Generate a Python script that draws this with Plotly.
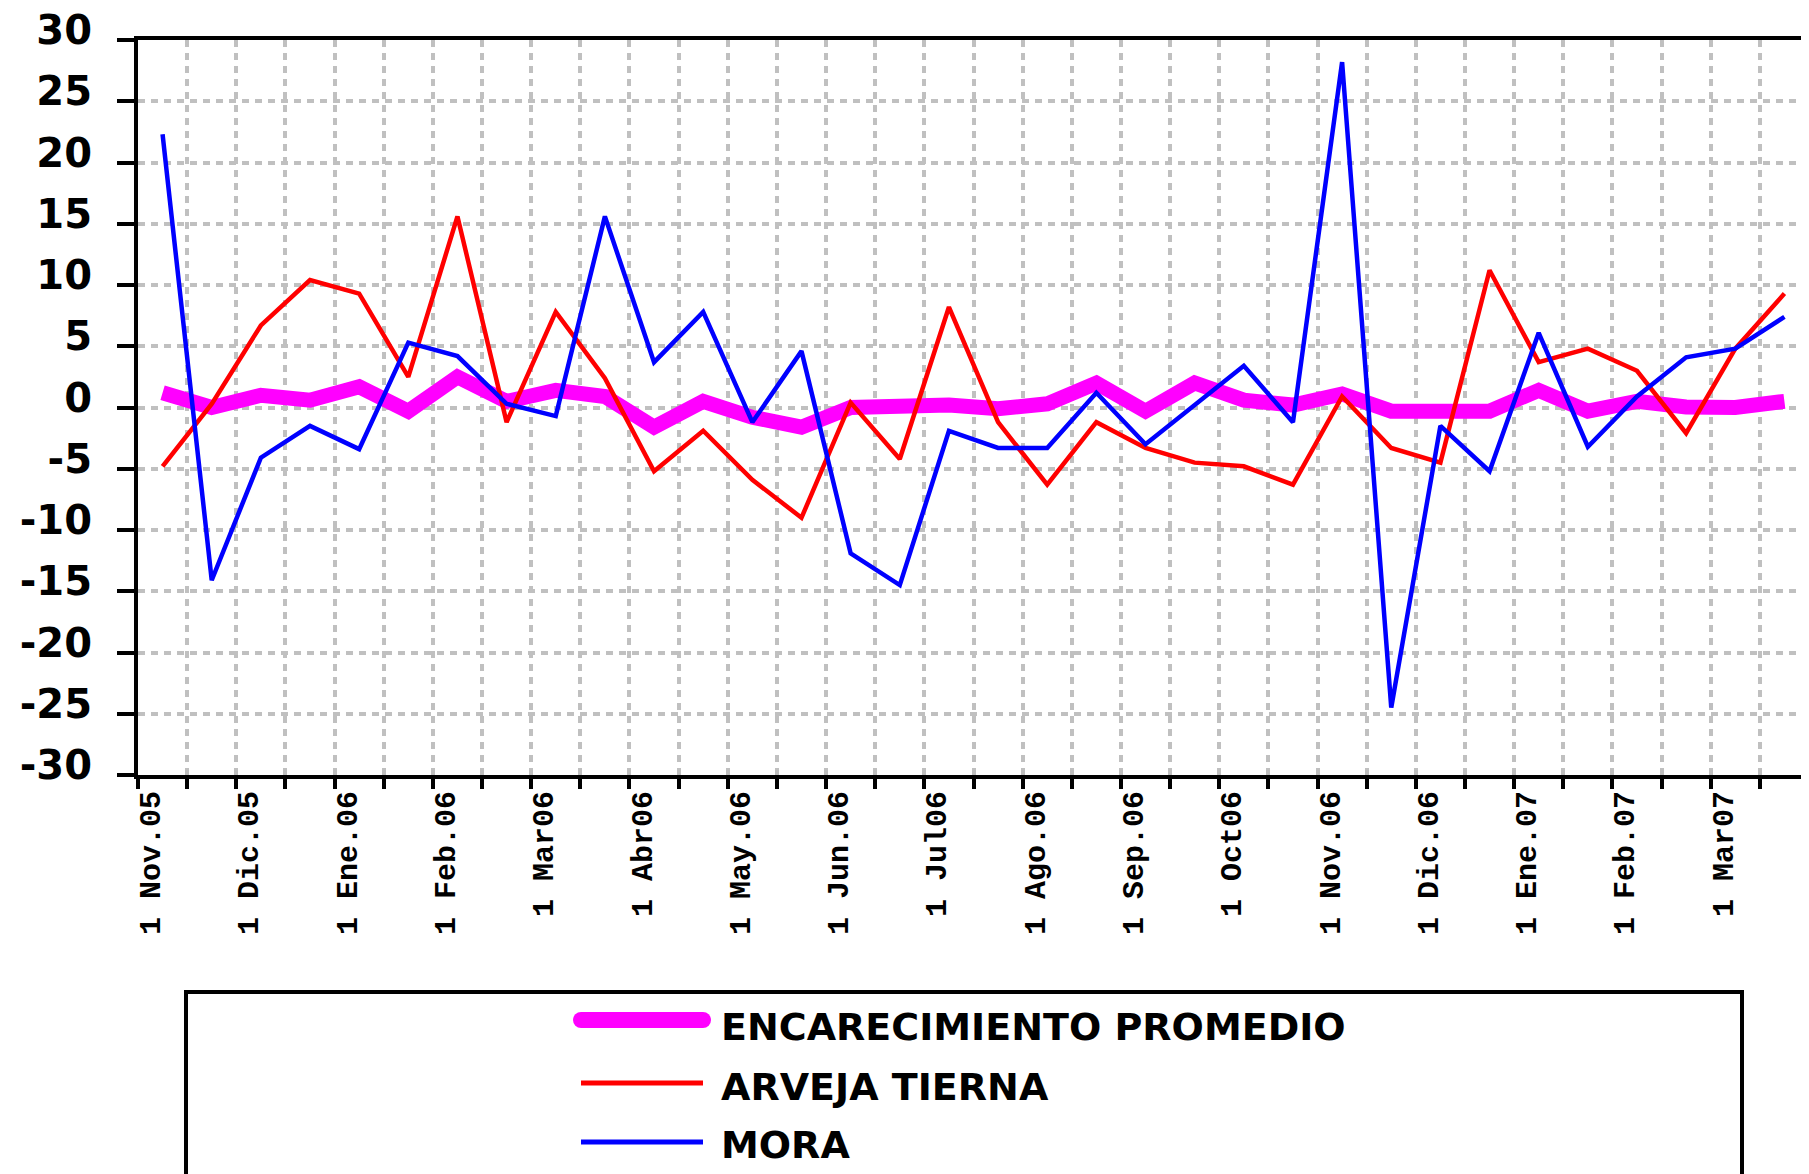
import plotly.graph_objects as go

# ---- data ----
month_labels = ["1 Nov.05", "1 Dic.05", "1 Ene.06", "1 Feb.06", "1 Mar06", "1 Abr06",
                "1 May.06", "1 Jun.06", "1 Jul06", "1 Ago.06", "1 Sep.06", "1 Oct06",
                "1 Nov.06", "1 Dic.06", "1 Ene.07", "1 Feb.07", "1 Mar07"]

encarecimiento = [1.2, 0.0, 1.0, 0.6, 1.7, -0.3, 2.5, 0.5, 1.4, 0.9, -1.6, 0.5, -0.8, -1.6,
                  0.0, 0.2, 0.2, -0.1, 0.3, 2.0, -0.3, 2.0, 0.6, 0.2, 1.1, -0.3, -0.3, -0.3,
                  1.4, -0.3, 0.5, 0.05, 0.0, 0.5]
arveja = [-4.8, 0.3, 6.7, 10.4, 9.3, 2.5, 15.6, -1.2, 7.8, 2.4, -5.2, -1.9, -5.9, -9.0,
          0.4, -4.2, 8.2, -1.2, -6.3, -1.2, -3.3, -4.5, -4.8, -6.3, 0.9, -3.3, -4.5, 11.2,
          3.7, 4.8, 3.0, -2.1, 4.8, 9.3]
mora = [22.3, -14.1, -4.1, -1.5, -3.4, 5.3, 4.2, 0.3, -0.7, 15.6, 3.7, 7.8, -1.2, 4.6,
        -11.9, -14.5, -1.9, -3.3, -3.3, 1.2, -3.0, 0.2, 3.4, -1.2, 28.2, -24.5, -1.5, -5.2,
        6.1, -3.2, 0.9, 4.1, 4.8, 7.4]

series_names = ["ENCARECIMIENTO PROMEDIO", "ARVEJA TIERNA", "MORA"]
series_colors = ["#FF00FF", "#FF0000", "#0000FF"]
series_widths = [15, 4.5, 4.5]
y_ticks = list(range(-30, 31, 5))

# ---- layout geometry (page body has an 8px margin) ----
OFF = 8
W, H = 1809 - OFF, 1174 - OFF
PL, PR, PT, PB = 138, 1811, 40, 775          # plot area in window pixels
L, T = PL - OFF, PT - OFF
R = max(0, W - (PR - OFF))
B = H - (PB - OFF)
pw, ph = W - L - R, H - T - B

def px(xw):
    return (xw - OFF - L) / pw

def py(yw):
    return (H - B - (yw - OFF)) / ph

idx = list(range(len(encarecimiento)))
fig = go.Figure()
for name, vals, col, w in zip(series_names, [encarecimiento, arveja, mora], series_colors, series_widths):
    fig.add_trace(go.Scatter(x=idx, y=vals, mode="lines", name=name,
                             line=dict(color=col, width=w), showlegend=False))

grid_col = "#C0C0C0"
fig.update_layout(
    width=W, height=H,
    margin=dict(l=L, r=R, t=T, b=B, autoexpand=False),
    paper_bgcolor="white", plot_bgcolor="white",
    showlegend=False,
    xaxis=dict(
        range=[-0.5, len(idx) - 0.5],
        tickmode="array",
        tickvals=[2 * k - 0.25 for k in range(len(month_labels))],
        ticktext=month_labels,
        tickangle=-90,
        ticks="",
        showgrid=False,
        zeroline=False,
        showline=True, linecolor="black", linewidth=4, mirror=True,
        tickfont=dict(family="Liberation Mono", size=30, color="black", weight="bold"),
        ticklabelstandoff=0,
        automargin=False,
        minor=dict(tick0=-0.5, dtick=1, ticks="outside", ticklen=10, tickwidth=4,
                   tickcolor="black", showgrid=True, gridcolor=grid_col, gridwidth=3.5,
                   griddash="7px,6px"),
    ),
    yaxis=dict(
        range=[-30, 30],
        tickmode="array", tickvals=y_ticks, ticktext=[str(v) for v in y_ticks],
        ticks="outside", ticklen=17, tickwidth=4, tickcolor="black",
        showline=True, linecolor="black", linewidth=4, mirror=False,
        showgrid=True, gridcolor=grid_col, gridwidth=3.5, griddash="7px,6px",
        zeroline=False,
        tickfont=dict(family="DejaVu Sans", size=40, color="black", weight="bold"),
        ticklabelstandoff=17,
        ticklabelshift=-10,
        ticklabeloverflow="allow",
        automargin=False,
    ),
)

# ---- legend box drawn by hand ----
shapes = [dict(type="rect", xref="paper", yref="paper",
               x0=px(186), x1=px(1742), y0=py(1250), y1=py(992),
               line=dict(color="black", width=4), fillcolor="rgba(0,0,0,0)")]
leg_line_y = [1020, 1083, 1142]
leg_text_y = [1027, 1087, 1145]
leg_widths = [16, 5, 5]
for col, ly, lw in zip(series_colors, leg_line_y, leg_widths):
    shapes.append(dict(type="line", xref="paper", yref="paper",
                       x0=px(581), x1=px(703), y0=py(ly), y1=py(ly),
                       line=dict(color=col, width=lw)))
# rounded ends of the thick magenta sample
for xe in (581, 703):
    shapes.append(dict(type="circle", xref="paper", yref="paper",
                       xsizemode="pixel", ysizemode="pixel",
                       xanchor=px(xe), yanchor=py(leg_line_y[0]),
                       x0=-8, x1=8, y0=-8, y1=8,
                       line=dict(width=0), fillcolor=series_colors[0]))
annotations = []
for name, ty in zip(series_names, leg_text_y):
    annotations.append(dict(xref="paper", yref="paper", x=px(719), y=py(ty),
                            xanchor="left", yanchor="middle", showarrow=False,
                            text=name,
                            font=dict(family="DejaVu Sans", size=38, color="black",
                                      weight="bold")))
fig.update_layout(shapes=shapes, annotations=annotations)

fig.write_html("out.html")
